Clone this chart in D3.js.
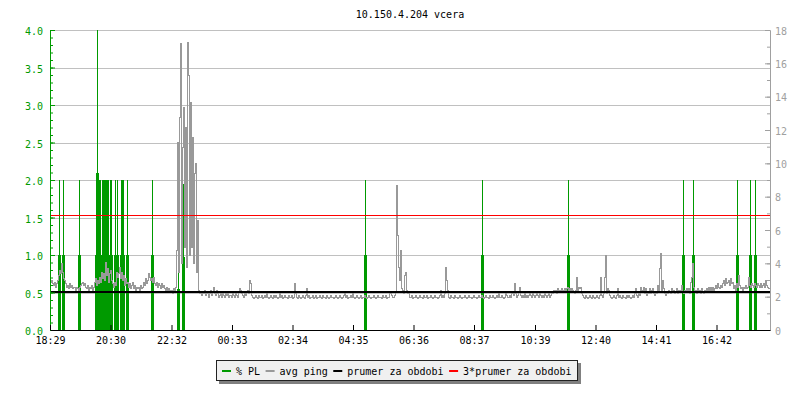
<!DOCTYPE html>
<html><head><meta charset="utf-8">
<script src="https://cdn.jsdelivr.net/npm/d3@7"></script>
<style>
body{margin:0;background:#fff}
svg{display:block}
text{font-family:"DejaVu Sans Mono",monospace;font-size:10px}
</style>
</head><body>
<svg id="c" width="800" height="400"></svg>
<script>
const title = "10.150.4.204 vcera";
const startTime = "18:29";
const spanMinutes = 1440;
const tickLabels = ["18:29","20:30","22:32","00:33","02:34","04:35","06:36","08:37","10:39","12:40","14:41","16:42"];
const leftDomain = [0, 4];
const rightDomain = [0, 18];
const pingStepMinutes = 2;
const pingValues = [
2.9,3.0,2.8,2.7,2.9,2.6,2.8,3.0,3.3,3.6,3.4,4.0,3.5,3.1,3.0,2.8,2.6,2.7,2.5,2.8,2.6,2.7,2.5,2.6,2.6,2.4,2.6,2.5,2.4,2.6,
2.7,2.8,2.9,2.7,2.8,2.6,2.5,2.7,2.4,2.6,2.5,2.7,2.4,2.6,2.9,3.1,2.7,3.0,2.8,3.2,2.9,3.5,3.1,3.4,3.0,4.1,3.3,3.7,2.9,3.4,
3.6,3.0,2.8,2.6,2.9,2.7,3.5,3.2,3.4,3.8,3.1,3.5,3.0,3.3,2.7,3.1,2.8,2.9,2.6,2.8,2.5,2.7,2.9,2.5,2.7,2.4,2.6,2.5,2.6,2.4,
2.7,2.5,2.6,2.9,2.7,3.1,2.8,3.0,3.4,3.2,3.0,3.1,2.9,3.2,2.8,2.7,2.9,2.6,2.8,2.7,2.5,2.8,2.6,2.7,2.5,2.4,2.6,2.3,2.5,2.4,
2.3,2.4,2.2,2.5,2.3,2.6,4.8,11.3,3.5,12.8,17.2,4.0,11.0,13.4,5.0,12.2,3.8,17.3,15.3,4.5,13.7,5.0,11.6,4.0,9.4,10.0,3.5,6.6,2.4,2.2,
2.2,2.1,2.3,2.2,2.4,2.1,2.2,2.3,2.0,2.2,2.4,2.1,2.3,2.6,2.2,2.1,2.4,2.2,2.0,2.1,2.3,2.0,2.2,2.1,2.0,2.2,2.1,2.3,2.0,2.1,
2.1,2.0,2.2,2.1,2.0,2.2,2.1,2.0,2.3,2.5,2.4,2.2,2.1,2.0,2.2,2.1,2.3,2.4,2.2,3.0,2.8,2.1,2.0,1.9,2.0,2.1,2.0,1.9,2.1,2.0,
2.0,2.1,1.9,2.0,2.1,2.0,2.2,2.0,1.9,2.0,2.1,2.0,1.9,2.1,2.0,2.1,2.0,1.9,2.0,2.2,2.0,2.1,1.9,2.0,2.1,2.0,2.0,1.9,2.1,2.0,
2.0,2.1,1.9,2.0,2.8,2.2,2.0,1.9,2.1,2.0,1.9,2.0,2.1,2.0,1.9,2.1,2.5,2.0,2.1,1.9,2.0,2.0,2.1,1.9,2.0,2.1,1.9,2.0,2.0,2.1,
2.0,1.9,2.1,2.0,2.0,1.9,2.1,2.0,1.9,2.0,2.1,2.0,2.0,1.9,2.0,2.1,2.0,1.9,2.0,2.1,2.0,1.9,2.0,2.1,2.2,2.0,2.1,1.9,2.0,2.0,
2.1,2.0,2.2,2.0,1.9,2.0,2.1,2.0,1.9,2.0,2.1,1.9,2.0,2.0,2.1,2.0,1.9,2.0,2.1,2.0,1.9,2.0,2.0,2.1,2.0,1.9,2.0,2.1,2.0,2.0,
2.0,1.9,2.1,2.0,2.0,2.1,1.9,2.0,2.0,2.2,2.3,2.1,2.0,2.0,2.1,2.3,8.7,5.7,3.8,3.0,4.8,2.5,2.4,2.2,3.3,3.5,2.4,2.2,2.3,2.0,
2.0,2.1,1.9,2.0,2.0,2.1,2.0,1.9,2.0,2.1,2.0,2.0,1.9,2.1,2.0,2.0,2.1,1.9,2.0,2.0,2.1,2.0,1.9,2.0,2.1,2.0,2.0,1.9,2.0,2.1,
2.4,2.0,2.1,2.0,2.2,3.8,3.0,2.4,2.0,1.9,2.1,2.0,2.0,1.9,2.1,2.0,2.0,1.9,2.0,2.1,2.0,1.9,2.0,2.0,2.1,2.0,1.9,2.0,2.1,2.0,
2.0,1.9,2.0,2.1,2.0,2.0,1.9,2.0,2.1,2.0,2.0,2.1,2.0,1.9,2.0,2.1,2.0,2.0,1.9,2.1,2.0,2.0,2.1,2.0,1.9,2.0,2.1,2.0,2.2,2.0,
2.0,2.1,2.0,1.9,2.0,2.2,2.1,2.0,2.0,2.1,2.0,2.2,2.3,2.1,2.8,2.2,2.0,2.1,2.3,2.6,2.1,2.0,2.1,2.0,2.2,2.0,2.1,2.0,2.1,2.2,
2.1,2.0,2.2,2.1,2.0,2.1,2.3,2.1,2.0,2.2,2.1,2.0,2.1,2.0,2.2,2.1,2.0,2.1,2.2,2.0,2.1,2.3,2.2,2.4,2.3,2.4,2.2,2.5,2.3,2.4,
2.3,2.5,2.4,2.3,2.5,2.4,2.5,2.6,2.4,2.5,2.3,2.5,2.4,2.3,2.2,2.4,3.2,2.3,2.6,2.5,2.6,2.2,2.1,2.0,1.9,2.1,2.0,1.9,2.0,2.1,
2.0,1.9,2.1,2.0,1.9,2.0,2.1,2.0,1.9,2.1,3.2,2.1,2.0,2.2,3.2,4.5,2.2,2.5,2.4,2.1,2.0,1.9,2.0,2.1,2.0,1.9,2.1,2.5,2.0,2.1,
2.0,1.9,2.1,2.0,2.0,1.9,2.1,2.0,2.1,2.0,1.9,2.0,2.1,2.0,2.2,2.5,2.1,2.0,2.2,2.1,2.6,2.3,2.4,2.6,2.2,2.5,2.1,2.3,2.2,2.5,
2.2,2.4,2.5,2.2,2.1,2.3,2.2,2.7,2.3,3.7,4.6,2.4,3.0,2.5,2.2,2.1,2.3,2.2,2.4,2.3,2.2,2.5,2.3,2.4,2.2,2.3,2.5,2.2,2.4,2.3,
2.4,2.7,2.3,2.2,2.4,2.3,2.5,2.4,2.5,2.2,2.9,3.2,4.0,2.6,2.3,2.4,2.2,2.5,2.3,2.4,2.2,2.5,2.3,2.2,2.4,2.3,2.5,2.4,2.6,2.4,
2.6,2.4,2.6,2.3,2.5,2.7,2.5,2.8,2.6,2.5,2.7,2.6,2.8,3.0,2.7,3.1,2.8,2.9,3.0,2.7,3.1,2.8,2.9,2.5,2.7,2.4,2.8,2.6,3.3,2.7,
2.5,2.6,2.4,2.6,2.5,2.7,2.5,2.6,3.2,2.7,2.6,2.8,2.7,2.6,2.8,2.7,2.6,2.8,2.7,2.6,2.8,2.6,2.7,2.8,2.6,3.0,2.7,2.6,2.5,2.6
];
const plTimes = ["18:47","18:54","19:27","20:01","20:03","20:05","20:07","20:09","20:13","20:15","20:17","20:19","20:21","20:23","20:25","20:29","20:31","20:39","20:42","20:51","20:53","20:55","21:03","21:52","22:45","22:54","04:58","08:52","11:44","15:34","15:54","17:22","17:48","17:58"];
const plValues = [2,2,2,2,4.2,2,2,2,2,2,2,2,2,2,2,2,2,2,2,2,2,2,2,2,1.1,1.95,2,2,2,2,2,2,2,2];
const avgPing = 2.3;
const tripleAvgPing = 6.9;
const legendLabels = ["% PL","avg ping","prumer za obdobi","3*prumer za obdobi"];
const legendColors = ["#009a00","#999999","#000000","#ff0000"];

const W = 800, H = 400;
const M = {left: 50, right: 30, top: 30, bottom: 70};
const svg = d3.select("#c");

const base = new Date(2024, 0, 1, +startTime.split(":")[0], +startTime.split(":")[1]);
const startMin = base.getHours() * 60 + base.getMinutes();
function toDate(s) {
  const [h, m] = s.split(":").map(Number);
  let off = h * 60 + m - startMin;
  if (off < 0) off += 1440;
  return new Date(base.getTime() + off * 60000);
}
const endDate = new Date(base.getTime() + spanMinutes * 60000);
const x = d3.scaleTime().domain([base, endDate]).range([M.left, W - M.right]);
const yL = d3.scaleLinear().domain(leftDomain).range([H - M.bottom, M.top]);
const yR = d3.scaleLinear().domain(rightDomain).range([H - M.bottom, M.top]);

// title
svg.append("text").attr("x", 410).attr("y", 18).attr("text-anchor", "middle").attr("fill", "#000").text(title);

// grid
svg.append("g").selectAll("line").data(d3.range(0.5, 4.01, 0.5)).join("line")
  .attr("x1", M.left).attr("x2", W - M.right)
  .attr("y1", d => Math.round(yL(d)) + 0.5).attr("y2", d => Math.round(yL(d)) + 0.5)
  .attr("stroke", "#c0c0c0").attr("stroke-width", 1);

svg.append("clipPath").attr("id", "clip").append("rect")
  .attr("x", M.left).attr("y", M.top).attr("width", W - M.left - M.right).attr("height", H - M.top - M.bottom);
const plot = svg.append("g").attr("clip-path", "url(#clip)");

// % PL: each sample drawn as a pixel-rasterised spike (centre column full, neighbours to mid-height)
const gPL = plot.append("g").attr("fill", legendColors[0]).attr("shape-rendering", "crispEdges");
plTimes.forEach((t, i) => {
  const cxp = Math.round(x(toDate(t)));
  const top = yL(plValues[i]);
  const bottom = yL(0);
  const mid = (top + bottom) / 2;
  gPL.append("rect").attr("x", cxp).attr("y", Math.max(top, M.top)).attr("width", 1).attr("height", bottom - Math.max(top, M.top));
  gPL.append("rect").attr("x", cxp - 1).attr("y", mid).attr("width", 3).attr("height", bottom - mid);
});

// avg ping line
const pingLine = d3.line()
  .x((d, i) => Math.round(x(new Date(base.getTime() + i * pingStepMinutes * 60000))))
  .y(d => Math.round(yR(d)) + 0.5)
  .curve(d3.curveStepAfter);
plot.append("path").datum(pingValues).attr("d", pingLine).attr("fill", "none")
  .attr("stroke", legendColors[1]).attr("stroke-width", 1).attr("shape-rendering", "crispEdges");

// hrules
svg.append("rect").attr("x", M.left).attr("width", W - M.left - M.right)
  .attr("y", Math.round(yR(avgPing)) - 1).attr("height", 2).attr("fill", legendColors[2]);
svg.append("line").attr("x1", M.left).attr("x2", W - M.right)
  .attr("y1", Math.round(yR(tripleAvgPing)) + 0.5).attr("y2", Math.round(yR(tripleAvgPing)) + 0.5)
  .attr("stroke", legendColors[3]).attr("stroke-width", 1);

// left axis
const green = legendColors[0];
const gL = svg.append("g").attr("transform", `translate(${M.left},0)`);
gL.call(d3.axisLeft(yL).tickValues(d3.range(0, 4.001, 0.1)).tickSizeInner(-3).tickSizeOuter(0).tickFormat(""));
const gL2 = svg.append("g").attr("transform", `translate(${M.left},0)`);
gL2.call(d3.axisLeft(yL).tickValues(d3.range(0, 4.001, 0.5)).tickSizeInner(-5).tickSizeOuter(0).tickPadding(7).tickFormat(d3.format(".1f")));
[gL, gL2].forEach(g => {
  g.selectAll("path,line").attr("stroke", green);
  g.selectAll("text").attr("fill", green).attr("dy", "0.45em").style("font-family", '"DejaVu Sans Mono",monospace').style("font-size", "10px");
});

// right axis
const gray = "#a0a0a0";
const gR = svg.append("g").attr("transform", `translate(${W - M.right},0)`);
gR.call(d3.axisRight(yR).tickValues(d3.range(0, 18.01, 1)).tickSizeInner(-3).tickSizeOuter(0).tickFormat(""));
const gR2 = svg.append("g").attr("transform", `translate(${W - M.right},0)`);
gR2.call(d3.axisRight(yR).tickValues(d3.range(0, 18.01, 2)).tickSizeInner(-5).tickSizeOuter(0).tickPadding(5));
[gR, gR2].forEach(g => {
  g.selectAll("path,line").attr("stroke", gray);
  g.selectAll("text").attr("fill", gray).attr("dy", "0.43em").style("font-family", '"DejaVu Sans Mono",monospace').style("font-size", "10px");
});

// bottom axis
const gB = svg.append("g").attr("transform", `translate(0,${H - M.bottom})`);
gB.call(d3.axisBottom(x).tickValues(tickLabels.map(toDate)).tickSizeInner(-5).tickSizeOuter(0).tickPadding(7)
  .tickFormat((d, i) => tickLabels[i]));
gB.selectAll("path,line").attr("stroke", "#000");
gB.selectAll("text").attr("fill", "#000").style("font-family", '"DejaVu Sans Mono",monospace').style("font-size", "10px");

// legend
const lx = 216, ly = 360, lw = 362, lh = 21;
svg.append("rect").attr("x", lx + 3).attr("y", ly + 3).attr("width", lw).attr("height", lh).attr("fill", "#808080");
svg.append("rect").attr("x", lx + 0.5).attr("y", ly + 0.5).attr("width", lw - 1).attr("height", lh - 1)
  .attr("fill", "#f0f0f0").attr("stroke", "#222").attr("stroke-width", 1);
let cx = 222;
legendLabels.forEach((lab, i) => {
  svg.append("rect").attr("x", cx).attr("y", 370).attr("width", 9).attr("height", 2).attr("fill", legendColors[i]);
  const t = svg.append("text").attr("x", cx + 14).attr("y", 374.5).attr("fill", "#000").text(lab);
  const w = t.node().getComputedTextLength();
  cx = cx + 14 + w + 5.5;
});
</script>
</body></html>
